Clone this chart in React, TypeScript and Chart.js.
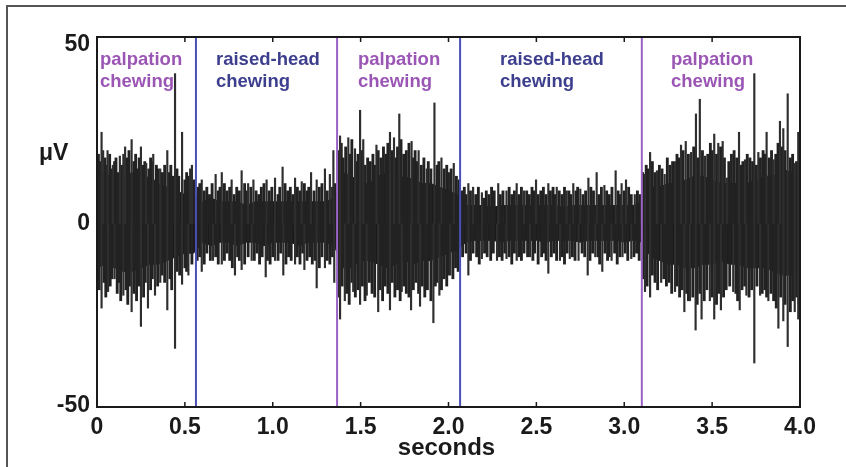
import React, { useEffect, useRef } from "react";
import { Chart, registerables } from "chart.js";

Chart.register(...registerables);

// ---- data ----
const coreTimes = [
  0, 0.05, 0.1, 0.15, 0.2, 0.25, 0.3, 0.35, 0.4, 0.45, 0.5, 0.55,
  0.6, 0.65, 0.7, 0.75, 0.8, 0.85, 0.9, 0.95, 1.0, 1.05, 1.1, 1.15, 1.2, 1.25, 1.3, 1.35,
  1.4, 1.45, 1.5, 1.55, 1.6, 1.65, 1.7, 1.75, 1.8, 1.85, 1.9, 1.95, 2.0, 2.05,
  2.1, 2.15, 2.2, 2.25, 2.3, 2.35, 2.4, 2.45, 2.5, 2.55, 2.6, 2.65, 2.7, 2.75, 2.8, 2.85, 2.9, 2.95, 3.0, 3.05, 3.1,
  3.15, 3.2, 3.25, 3.3, 3.35, 3.4, 3.45, 3.5, 3.55, 3.6, 3.65, 3.7, 3.75, 3.8, 3.85, 3.9, 3.95, 4.0,
];
const coreUpper = [
  15, 13, 14, 13, 14, 12, 13, 11, 10, 9, 8, 8,
  6, 7, 6, 6, 6, 5, 6, 6, 6, 6, 6, 6, 6, 6, 6, 7,
  14, 13, 11, 11, 13, 14, 12, 13, 12, 11, 11, 10, 9, 8,
  5, 5, 5, 4.5, 5, 5, 5, 5, 5, 5, 5, 4.5, 5, 5, 5, 5, 5, 5, 5, 5, 6,
  10, 10, 11, 11, 12, 13, 13, 12, 11, 11, 11, 11, 12, 13, 13, 15, 14, 13,
];
const coreLower = [
  -12, -11, -12, -13, -13, -12, -11, -11, -10, -9, -8, -8,
  -5, -6, -5, -5, -6, -5, -5, -6, -5, -5, -5, -6, -5, -5, -5, -6,
  -12, -12, -10, -10, -11, -12, -11, -10, -11, -10, -10, -9, -8, -7,
  -5, -4.5, -4.5, -4.5, -5, -4.5, -4.5, -4.5, -4.5, -5, -4.5, -4.5, -4.5, -5, -4.5, -4.5, -4.5, -4.5, -5, -4.5, -5,
  -9, -10, -11, -11, -12, -12, -11, -11, -10, -11, -11, -12, -12, -12, -13, -14, -14, -13,
];

// tall spikes
const upSpikeT = [
  0.026, 0.035, 0.06, 0.09, 0.13, 0.15, 0.16, 0.197, 0.25, 0.28, 0.32, 0.36, 0.40, 0.444, 0.484, 0.53, 0.54,
  0.596, 0.675, 0.71, 0.766, 0.823, 0.86, 0.89, 0.965, 1.013, 1.056, 1.127, 1.165, 1.218, 1.25, 1.297, 1.325, 1.345,
  1.383, 1.43, 1.468, 1.497, 1.515, 1.59, 1.667, 1.69, 1.72, 1.79, 1.83, 1.876, 1.92, 1.96, 2.03,
  2.113, 2.14, 2.19, 2.283, 2.33, 2.388, 2.43, 2.498, 2.568, 2.616, 2.672, 2.71, 2.75, 2.796, 2.843, 2.887, 2.951, 2.985, 3.01, 3.06,
  3.118, 3.147, 3.186, 3.23, 3.289, 3.323, 3.35, 3.38, 3.408, 3.43, 3.46, 3.512, 3.535, 3.56, 3.584, 3.653, 3.687, 3.74, 3.763,
  3.81, 3.85, 3.886, 3.905, 3.93, 3.97, 3.99,
];
const upSpikeV = [
  25, 20, 20, 16, 18.5, 19, 21, 23, 21, 16.5, 19, 15, 20, 41, 25, 15, 16,
  12, 13.5, 14, 12, 14.5, 11, 12, 12, 12.5, 15.5, 12.5, 11.5, 14, 12, 15, 13.5, 20,
  24, 23.5, 20.5, 31, 23, 21.5, 25, 23.5, 30, 22.5, 20, 15, 33, 18, 16.5,
  11, 10, 8.5, 11, 9, 11, 9, 12, 11, 10, 9, 11, 9.5, 12.5, 14, 10.5, 14.5, 11, 12, 8,
  13.5, 19.5, 14.5, 13.5, 17, 21.5, 22.5, 19.5, 30, 34, 18.5, 24.5, 22, 22.5, 12.5, 25, 17.5, 41, 19.5,
  25, 17.5, 28, 26, 35.5, 16.5, 25,
];
const downSpikeT = [
  0.026, 0.063, 0.10, 0.15, 0.197, 0.25, 0.29, 0.33, 0.36, 0.40, 0.444, 0.484, 0.52,
  0.596, 0.66, 0.71, 0.785, 0.823, 0.88, 0.96, 1.013, 1.06, 1.127, 1.18, 1.25, 1.297, 1.35,
  1.383, 1.41, 1.458, 1.497, 1.535, 1.60, 1.667, 1.734, 1.787, 1.838, 1.914, 1.948, 2.01,
  2.113, 2.19, 2.276, 2.33, 2.388, 2.464, 2.568, 2.634, 2.69, 2.74, 2.792, 2.835, 2.875, 2.928, 2.99, 3.04,
  3.118, 3.147, 3.21, 3.289, 3.342, 3.374, 3.406, 3.44, 3.487, 3.512, 3.55, 3.62, 3.657, 3.695, 3.74, 3.773,
  3.82, 3.877, 3.905, 3.93, 3.97, 3.99,
];
const downSpikeV = [
  -23, -18.5, -15, -19.5, -24, -28, -23, -19.5, -16, -23.5, -34, -16.5, -14,
  -13, -10, -11, -14, -12.5, -10, -14.5, -10, -14, -11, -12.5, -17.5, -12, -16,
  -26, -21, -18.5, -22, -19.5, -24, -23.5, -18.5, -23.5, -22.5, -27, -19.5, -14,
  -14, -9.5, -10, -9.5, -10, -9, -13.5, -10, -9.5, -10, -14, -9, -13, -10, -9, -9.5,
  -18.5, -20, -16, -18.5, -24, -21, -29, -26, -21, -26, -23.5, -18.5, -23.5, -19.5, -38, -19.5,
  -21, -28.5, -26.5, -33.5, -24, -26,
];

// medium "fuzz" spikes per segment
const fuzzUp1T = [0.008, 0.018, 0.045, 0.052, 0.072, 0.082, 0.1, 0.108, 0.12, 0.14, 0.172, 0.182, 0.21, 0.22, 0.232, 0.24, 0.262, 0.272, 0.295, 0.305, 0.315, 0.338, 0.348, 0.372, 0.385, 0.41, 0.42, 0.43, 0.455, 0.465, 0.5, 0.51, 0.52, 0.55];
const fuzzUp1V = [19, 17, 18, 16, 19, 15, 17, 18, 14, 16, 18, 20, 17, 19, 15, 18, 16, 17, 15, 18, 17, 16, 15, 14, 16, 14, 16, 13, 15, 13, 12, 14, 13, 12];
const fuzzDn1T = [0.012, 0.04, 0.05, 0.075, 0.085, 0.115, 0.125, 0.135, 0.165, 0.175, 0.185, 0.21, 0.225, 0.24, 0.265, 0.275, 0.305, 0.315, 0.345, 0.37, 0.385, 0.415, 0.425, 0.455, 0.47, 0.5, 0.51, 0.54];
const fuzzDn1V = [-18, -16, -20, -17, -15, -19, -16, -21, -18, -22, -17, -19, -21, -17, -20, -16, -18, -15, -17, -14, -16, -15, -18, -13, -14, -12, -13, -11];

const fuzzUp2T = [0.575, 0.585, 0.61, 0.625, 0.64, 0.655, 0.69, 0.7, 0.725, 0.74, 0.755, 0.78, 0.795, 0.81, 0.84, 0.85, 0.875, 0.905, 0.92, 0.935, 0.95, 0.98, 0.995, 1.03, 1.04, 1.07, 1.085, 1.1, 1.115, 1.14, 1.155, 1.18, 1.195, 1.205, 1.235, 1.265, 1.28, 1.31, 1.34, 1.355];
const fuzzUp2V = [10, 11, 9, 10, 8, 11, 9, 10, 11, 9, 10, 8, 10, 9, 11, 9, 10, 9, 8, 10, 11, 9, 10, 8, 10, 11, 9, 10, 8, 10, 9, 11, 9, 10, 9, 10, 11, 9, 10, 11];
const fuzzDn2T = [0.57, 0.585, 0.61, 0.625, 0.645, 0.675, 0.69, 0.725, 0.74, 0.755, 0.77, 0.8, 0.81, 0.84, 0.86, 0.895, 0.91, 0.925, 0.94, 0.97, 0.985, 1.0, 1.03, 1.045, 1.075, 1.09, 1.105, 1.14, 1.155, 1.17, 1.195, 1.21, 1.225, 1.24, 1.265, 1.28, 1.31, 1.325, 1.34];
const fuzzDn2V = [-10, -9, -11, -8, -10, -9, -11, -10, -8, -10, -12, -9, -10, -11, -9, -10, -8, -11, -9, -10, -11, -9, -10, -8, -11, -9, -10, -9, -11, -8, -10, -9, -11, -10, -12, -9, -10, -11, -9];

const fuzzUp3T = [1.372, 1.39, 1.4, 1.415, 1.44, 1.45, 1.475, 1.485, 1.505, 1.525, 1.54, 1.555, 1.57, 1.58, 1.6, 1.615, 1.63, 1.645, 1.655, 1.68, 1.7, 1.71, 1.73, 1.745, 1.76, 1.775, 1.8, 1.81, 1.82, 1.845, 1.86, 1.885, 1.9, 1.935, 1.945, 1.975, 1.99, 2.0, 2.015, 2.045, 2.06];
const fuzzUp3V = [20, 22, 18, 21, 19, 23, 17, 19, 20, 16, 18, 17, 19, 16, 20, 18, 21, 19, 22, 20, 18, 21, 23, 19, 20, 22, 18, 20, 17, 16, 18, 17, 15, 16, 17, 15, 16, 14, 15, 13, 12];
const fuzzDn3T = [1.375, 1.395, 1.42, 1.435, 1.45, 1.47, 1.485, 1.51, 1.525, 1.55, 1.565, 1.58, 1.61, 1.625, 1.64, 1.655, 1.68, 1.695, 1.71, 1.725, 1.745, 1.76, 1.775, 1.8, 1.815, 1.83, 1.85, 1.865, 1.88, 1.9, 1.925, 1.935, 1.96, 1.975, 1.99, 2.0, 2.025, 2.04, 2.055];
const fuzzDn3V = [-20, -17, -19, -22, -16, -20, -18, -17, -21, -16, -19, -20, -18, -21, -17, -19, -16, -20, -18, -21, -17, -19, -20, -18, -16, -19, -17, -20, -18, -21, -17, -16, -18, -15, -17, -14, -15, -12, -13];

const fuzzUp4T = [2.075, 2.09, 2.1, 2.125, 2.155, 2.17, 2.2, 2.215, 2.23, 2.245, 2.26, 2.295, 2.31, 2.345, 2.36, 2.375, 2.4, 2.415, 2.445, 2.46, 2.475, 2.485, 2.51, 2.525, 2.54, 2.555, 2.58, 2.595, 2.605, 2.63, 2.645, 2.66, 2.685, 2.695, 2.725, 2.735, 2.765, 2.78, 2.81, 2.825, 2.855, 2.87, 2.9, 2.915, 2.93, 2.965, 2.975, 3.0, 3.025, 3.04, 3.075, 3.09];
const fuzzUp4V = [9, 10, 8, 9, 8, 10, 7, 9, 8, 10, 9, 8, 9, 10, 8, 9, 8, 10, 9, 8, 10, 9, 8, 9, 10, 8, 9, 10, 8, 9, 8, 10, 9, 8, 9, 10, 8, 9, 10, 9, 8, 10, 9, 8, 10, 9, 8, 9, 10, 8, 9, 8];
const fuzzDn4T = [2.08, 2.1, 2.125, 2.14, 2.16, 2.175, 2.205, 2.22, 2.24, 2.255, 2.29, 2.305, 2.32, 2.345, 2.36, 2.375, 2.4, 2.415, 2.43, 2.45, 2.48, 2.49, 2.51, 2.53, 2.545, 2.555, 2.585, 2.6, 2.615, 2.645, 2.66, 2.675, 2.705, 2.72, 2.76, 2.775, 2.805, 2.82, 2.85, 2.86, 2.89, 2.905, 2.915, 2.945, 2.96, 2.975, 3.005, 3.02, 3.055, 3.07, 3.085];
const fuzzDn4V = [-9, -8, -10, -8, -9, -11, -8, -9, -10, -8, -9, -10, -8, -9, -11, -8, -9, -10, -8, -9, -10, -8, -11, -9, -8, -10, -9, -8, -10, -9, -11, -8, -9, -10, -8, -9, -10, -8, -9, -11, -8, -10, -9, -8, -11, -9, -8, -10, -9, -8, -10];

const fuzzUp5T = [3.105, 3.125, 3.135, 3.16, 3.175, 3.2, 3.215, 3.245, 3.26, 3.275, 3.3, 3.31, 3.335, 3.365, 3.395, 3.42, 3.445, 3.475, 3.49, 3.5, 3.525, 3.548, 3.57, 3.595, 3.61, 3.625, 3.64, 3.665, 3.675, 3.7, 3.715, 3.73, 3.752, 3.775, 3.79, 3.8, 3.825, 3.838, 3.862, 3.875, 3.895, 3.915, 3.945, 3.958, 3.98];
const fuzzUp5V = [14, 16, 15, 17, 14, 16, 15, 18, 16, 17, 19, 18, 20, 19, 21, 18, 20, 19, 22, 20, 19, 21, 18, 17, 19, 20, 18, 16, 17, 19, 18, 17, 16, 18, 20, 19, 18, 20, 19, 22, 21, 20, 18, 19, 17];
const fuzzDn5T = [3.108, 3.13, 3.16, 3.175, 3.19, 3.225, 3.24, 3.255, 3.27, 3.3, 3.315, 3.33, 3.355, 3.365, 3.39, 3.415, 3.43, 3.455, 3.47, 3.5, 3.525, 3.538, 3.565, 3.58, 3.6, 3.635, 3.645, 3.67, 3.685, 3.71, 3.725, 3.755, 3.785, 3.8, 3.81, 3.835, 3.85, 3.865, 3.89, 3.915, 3.945, 3.958, 3.98, 3.995];
const fuzzDn5V = [-15, -17, -14, -16, -18, -15, -17, -16, -19, -17, -20, -18, -19, -21, -20, -22, -19, -21, -18, -20, -22, -19, -20, -18, -17, -19, -21, -18, -17, -20, -18, -17, -19, -18, -20, -19, -21, -23, -20, -22, -24, -21, -20, -22];

const boundaryT = [0.563, 1.366, 2.066, 3.1];
const boundaryColors = ["#4a4fb4", "#9a62c4", "#4a4fb4", "#9a62c4"];

const segLabelT = [0.017, 0.677, 1.485, 2.293, 3.266];
const segLabelLines = [
  ["palpation", "chewing"],
  ["raised-head", "chewing"],
  ["palpation", "chewing"],
  ["raised-head", "chewing"],
  ["palpation", "chewing"],
];
const segLabelColors = ["#9b56b5", "#3d3f8e", "#9b56b5", "#3d3f8e", "#9b56b5"];

const xTickValues = [0, 0.5, 1.0, 1.5, 2.0, 2.5, 3.0, 3.5, 4.0];
const xTickLabels = ["0", "0.5", "1.0", "1.5", "2.0", "2.5", "3.0", "3.5", "4.0"];
const yTickValues = [-50, 0, 50];
const yTickLabels = ["-50", "0", "50"];

const FONT = "'Liberation Sans', Arial, Helvetica, sans-serif";

function pairs(ts: number[], vs: number[]) {
  return ts.map((t, i) => ({ x: t, y: [0, vs[i]] }));
}

export default function App() {
  const ref = useRef<HTMLCanvasElement | null>(null);

  useEffect(() => {
    const canvas = ref.current;
    if (!canvas) return;

    const decor = {
      id: "decor",
      beforeDatasetsDraw(chart: any) {
        const ctx = chart.ctx;
        const xs = chart.scales.x;
        ctx.save();
        ctx.font = `bold 18.5px ${FONT}`;
        ctx.textBaseline = "alphabetic";
        ctx.textAlign = "left";
        segLabelT.forEach((t, i) => {
          const px = xs.getPixelForValue(t);
          ctx.fillStyle = segLabelColors[i];
          ctx.fillText(segLabelLines[i][0], px, 65);
          ctx.fillText(segLabelLines[i][1], px, 87);
        });
        ctx.restore();
      },
      afterDraw(chart: any) {
        const ctx = chart.ctx;
        const xs = chart.scales.x;
        const ys = chart.scales.y;
        const a = chart.chartArea;
        ctx.save();
        // outer figure border
        ctx.strokeStyle = "#555";
        ctx.lineWidth = 2;
        ctx.beginPath();
        ctx.moveTo(7, 467);
        ctx.lineTo(7, 6);
        ctx.lineTo(846, 6);
        ctx.stroke();
        // plot frame
        ctx.strokeStyle = "#1a1a1a";
        ctx.lineWidth = 2;
        ctx.strokeRect(a.left, a.top, a.right - a.left, a.bottom - a.top);
        // inward ticks
        ctx.lineWidth = 1.5;
        xTickValues.forEach((v) => {
          const px = xs.getPixelForValue(v);
          ctx.beginPath();
          ctx.moveTo(px, a.bottom);
          ctx.lineTo(px, a.bottom - 5);
          ctx.moveTo(px, a.top);
          ctx.lineTo(px, a.top + 5);
          ctx.stroke();
        });
        // tick labels
        ctx.fillStyle = "#1a1a1a";
        ctx.font = `bold 23px ${FONT}`;
        ctx.textAlign = "center";
        ctx.textBaseline = "alphabetic";
        xTickValues.forEach((v, i) => {
          ctx.fillText(xTickLabels[i], xs.getPixelForValue(v), 434);
        });
        ctx.textAlign = "right";
        ctx.textBaseline = "middle";
        yTickValues.forEach((v, i) => {
          let py = ys.getPixelForValue(v);
          if (v === 50) py += 4;
          if (v === -50) py -= 1;
          ctx.fillText(yTickLabels[i], 90, py);
        });
        // axis titles
        ctx.textAlign = "center";
        ctx.textBaseline = "alphabetic";
        ctx.font = `bold 24px ${FONT}`;
        ctx.fillText("seconds", (a.left + a.right) / 2 - 2, 455);
        ctx.textAlign = "left";
        ctx.font = `bold 23px ${FONT}`;
        ctx.fillText("\u03bcV", 39, 160);
        ctx.restore();
      },
    };

    const fuzzSets = [
      [fuzzUp1T, fuzzUp1V], [fuzzDn1T, fuzzDn1V],
      [fuzzUp2T, fuzzUp2V], [fuzzDn2T, fuzzDn2V],
      [fuzzUp3T, fuzzUp3V], [fuzzDn3T, fuzzDn3V],
      [fuzzUp4T, fuzzUp4V], [fuzzDn4T, fuzzDn4V],
      [fuzzUp5T, fuzzUp5V], [fuzzDn5T, fuzzDn5V],
    ];

    const datasets: any[] = [
      {
        type: "line",
        data: coreTimes.map((t, i) => ({ x: t, y: coreUpper[i] })),
        borderColor: "#1a1a1a",
        borderWidth: 1,
        pointRadius: 0,
        fill: "+1",
        backgroundColor: "#1a1a1a",
        order: 3,
      },
      {
        type: "line",
        data: coreTimes.map((t, i) => ({ x: t, y: coreLower[i] })),
        borderColor: "#1a1a1a",
        borderWidth: 1,
        pointRadius: 0,
        fill: false,
        order: 3,
      },
      ...fuzzSets.map(([ts, vs]) => ({
        type: "bar",
        data: pairs(ts as number[], vs as number[]),
        backgroundColor: "#222222",
        barThickness: 2.2,
        grouped: false,
        order: 2,
      })),
      {
        type: "bar",
        data: pairs(upSpikeT, upSpikeV),
        backgroundColor: "#2e2e2e",
        barThickness: 1.5,
        grouped: false,
        order: 1,
      },
      {
        type: "bar",
        data: pairs(downSpikeT, downSpikeV),
        backgroundColor: "#2e2e2e",
        barThickness: 1.5,
        grouped: false,
        order: 1,
      },
      ...boundaryT.map((t, i) => ({
        type: "line",
        data: [
          { x: t, y: -50 },
          { x: t, y: 51 },
        ],
        borderColor: boundaryColors[i],
        borderWidth: 2,
        pointRadius: 0,
        fill: false,
        order: 0,
      })),
    ];

    const chart = new Chart(canvas, {
      type: "bar",
      data: { datasets },
      options: {
        animation: false,
        responsive: false,
        maintainAspectRatio: false,
        events: [],
        layout: { padding: { left: 97, right: 46, top: 37, bottom: 60 } },
        plugins: { legend: { display: false }, tooltip: { enabled: false } },
        scales: {
          x: { type: "linear", min: 0, max: 4, offset: false, display: false },
          y: { type: "linear", min: -50, max: 51, display: false },
        },
      },
      plugins: [decor],
    } as any);

    return () => chart.destroy();
  }, []);

  return (
    <div style={{ position: "fixed", left: 0, top: 0, width: 846, height: 467, background: "#fff" }}>
      <canvas ref={ref} width={846} height={467} style={{ width: 846, height: 467, display: "block" }} />
    </div>
  );
}
